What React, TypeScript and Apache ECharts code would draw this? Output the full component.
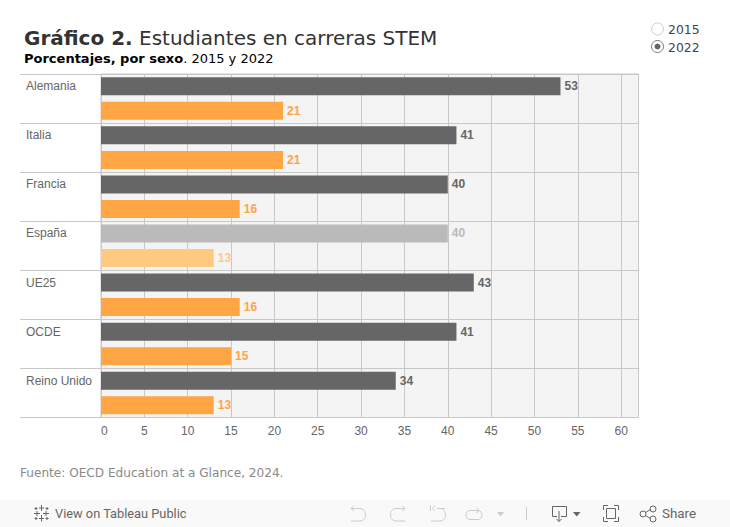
import React, { useEffect, useRef } from "react";
import * as echarts from "echarts";

const countries = ["Alemania", "Italia", "Francia", "España", "UE25", "OCDE", "Reino Unido"];
const darkValues = [53, 41, 40, 40, 43, 41, 34];
const orangeValues = [21, 21, 16, 13, 16, 15, 13];
const dimmedCountry = "España";
const xTicksMax = 62;

const sans = "'Liberation Sans', Arial, sans-serif";
const dejavu = "'DejaVu Sans', sans-serif";
const ui = "Roboto, sans-serif";

const ICONS: Record<string, string> = {
  undo: "M351 508.5H360C363 508.5 365.5 511.5 365.5 515C365.5 518.5 363 521 360 521H351M354 505.5L351 508.5L354 511",
  redo: "M405 508.5H396C393 508.5 390.5 511.5 390.5 515C390.5 518.5 393 521 396 521H405M402 505.5L405 508.5L402 511",
  revert: "M430.5 505.5V511M445 508.5H437M437 508.5H440C443 508.5 445.5 511.5 445.5 515C445.5 518.5 443 521 440 521H431M435 505.5L432.5 508.5L435 511",
  refresh: "M478 510.5H470C467.5 510.5 466 512.5 466 515C466 517.5 467.5 519.5 470 519.5H478C480.5 519.5 482 517.5 482 515C482 512.5 480.5 510.5 478 510.5M476 507.5L479 510.5L476 513",
  download: "M557 516.5H552.5V506.5H566.5V516.5H561M559 511V521.5M556.5 519L559 521.5L561.5 519",
  fullscreen: "M603.5 510V505.5H608M614 505.5H618.5V510M618.5 517V521.5H614M608 521.5H603.5V517M606.5 508.5H615.5V518.5H606.5Z",
  share: "M645.5 512.5L650.5 509.5M645.5 515.5L650.5 518.5M646 514A3 3 0 1 1 640 514A3 3 0 1 1 646 514M656 509A3 3 0 1 1 650 509A3 3 0 1 1 656 509M656 519A3 3 0 1 1 650 519A3 3 0 1 1 656 519",
  logo: "M41.5 505V511M39 508H44M41.5 515V521.5M39 518.5H44M34 513.5H40M37 511V516M43 513.5H49M46 511V516M36 507V510M34.5 508.5H37.5M47 507V510M45.5 508.5H48.5M36 517V520M34.5 518.5H37.5M47 517V520M45.5 518.5H48.5",
};
Object.keys(ICONS).forEach((k) => {
  echarts.graphic.registerShape("ic_" + k, echarts.graphic.extendPath(ICONS[k], {}) as any);
});

const icon = (k: string, stroke: string, lineWidth = 1) => ({
  type: "ic_" + k,
  x: 0,
  y: 0,
  silent: true,
  style: { stroke, fill: "none", lineWidth },
});

const rows: string[] = countries.flatMap((c) => [c, ""]);
const mkData = (values: number[], offset: number, base: string, dim: string) =>
  rows.map((_, i) => {
    if (i % 2 !== offset) return { value: null };
    const idx = (i - offset) / 2;
    const c = countries[idx] === dimmedCountry ? dim : base;
    return { value: values[idx], itemStyle: { color: c }, label: { color: c } };
  });

const barLabel = {
  show: true,
  position: "right" as const,
  distance: 4,
  fontFamily: sans,
  fontSize: 12,
  fontWeight: "bold" as const,
};

const App = () => {
  const ref = useRef<HTMLDivElement>(null);
  useEffect(() => {
    if (!ref.current) return;
    const chart = echarts.init(ref.current, undefined, { renderer: "svg" });
    chart.setOption({
      animation: false,
      backgroundColor: "#ffffff",
      grid: {
        left: 101,
        right: 91.5,
        top: 74,
        height: 343.5,
        show: true,
        backgroundColor: "#f4f4f4",
        borderColor: "#c8c8c8",
        borderWidth: 1,
        containLabel: false,
      },
      xAxis: {
        type: "value",
        min: 0,
        max: xTicksMax,
        interval: 5,
        axisLine: { show: false },
        axisTick: { show: false },
        splitLine: { show: true, lineStyle: { color: "#c8c8c8", width: 1 } },
        axisLabel: {
          color: "#666666",
          fontFamily: sans,
          fontSize: 12,
          margin: 7,
          showMaxLabel: false,
          alignMinLabel: "left",
        },
      },
      yAxis: {
        type: "category",
        inverse: true,
        data: rows,
        axisLine: { show: false },
        axisTick: {
          show: true,
          length: 81,
          interval: (i: number) => i % 2 === 0,
          lineStyle: { color: "#c8c8c8", width: 1 },
        },
        splitLine: {
          show: true,
          interval: (i: number) => i % 2 === 0,
          lineStyle: { color: "#c8c8c8", width: 1 },
        },
        axisLabel: {
          interval: 0,
          color: "#666666",
          fontFamily: sans,
          fontSize: 12,
          align: "left",
          margin: 75,
        },
      },
      series: [
        {
          name: "Serie gris",
          type: "bar",
          stack: "s",
          barWidth: 18,
          data: mkData(darkValues, 0, "#666666", "#bababa"),
          label: barLabel,
        },
        {
          name: "Serie naranja",
          type: "bar",
          stack: "s",
          barWidth: 18,
          data: mkData(orangeValues, 1, "#ffa544", "#ffc97f"),
          label: barLabel,
        },
      ],
      graphic: [
        {
          type: "text",
          x: 24,
          y: 28,
          silent: true,
          style: {
            text: "{b|Gráfico 2.}{n| Estudiantes en carreras STEM}",
            rich: {
              b: { fontFamily: dejavu, fontSize: 20, fontWeight: "bold", fill: "#333333" },
              n: { fontFamily: dejavu, fontSize: 20, fill: "#333333" },
            },
          },
        },
        {
          type: "text",
          x: 24,
          y: 52,
          silent: true,
          style: {
            text: "{b|Porcentajes, por sexo}{n|. 2015 y 2022}",
            rich: {
              b: { fontFamily: dejavu, fontSize: 13, fontWeight: "bold", fill: "#000000" },
              n: { fontFamily: dejavu, fontSize: 13, fill: "#000000" },
            },
          },
        },
        { type: "circle", shape: { cx: 657.5, cy: 29, r: 6 }, silent: true, style: { fill: "#ffffff", stroke: "#cfcfcf", lineWidth: 1 } },
        { type: "circle", shape: { cx: 657.5, cy: 46.5, r: 6 }, silent: true, style: { fill: "#ffffff", stroke: "#777777", lineWidth: 1 } },
        { type: "circle", shape: { cx: 657.5, cy: 46.5, r: 3 }, silent: true, style: { fill: "#666666" } },
        { type: "text", x: 668, y: 23, silent: true, style: { text: "2015", fontFamily: dejavu, fontSize: 12.4, fill: "#444444" } },
        { type: "text", x: 668, y: 41, silent: true, style: { text: "2022", fontFamily: dejavu, fontSize: 12.4, fill: "#444444" } },
        { type: "text", x: 20, y: 467, silent: true, style: { text: "Fuente: OECD Education at a Glance, 2024.", fontFamily: dejavu, fontSize: 12.1, fill: "#8a8a8a" } },
        { type: "rect", shape: { x: 0, y: 500, width: 730, height: 27 }, silent: true, style: { fill: "#f9f9f9" } },
        icon("logo", "#666666"),
        { type: "text", x: 55, y: 507, silent: true, style: { text: "View on Tableau Public", fontFamily: ui, fontSize: 12.8, fontWeight: 400, fill: "#666666" } },
        icon("undo", "#cccccc"),
        icon("redo", "#cccccc"),
        icon("revert", "#cccccc"),
        icon("refresh", "#cccccc"),
        { type: "polygon", shape: { points: [[497, 512], [504, 512], [500.5, 516.5]] }, silent: true, style: { fill: "#cccccc" } },
        { type: "line", shape: { x1: 526.5, y1: 507, x2: 526.5, y2: 520 }, silent: true, style: { stroke: "#cccccc", lineWidth: 1 } },
        icon("download", "#666666"),
        { type: "polygon", shape: { points: [[573, 512], [580.5, 512], [576.75, 516.5]] }, silent: true, style: { fill: "#666666" } },
        icon("fullscreen", "#666666"),
        icon("share", "#666666"),
        { type: "text", x: 662, y: 507, silent: true, style: { text: "Share", fontFamily: ui, fontSize: 13.4, fontWeight: 400, fill: "#666666" } },
      ],
    });
    return () => chart.dispose();
  }, []);
  return <div ref={ref} style={{ position: "absolute", left: 0, top: 0, width: 730, height: 527 }} />;
};

export default App;
